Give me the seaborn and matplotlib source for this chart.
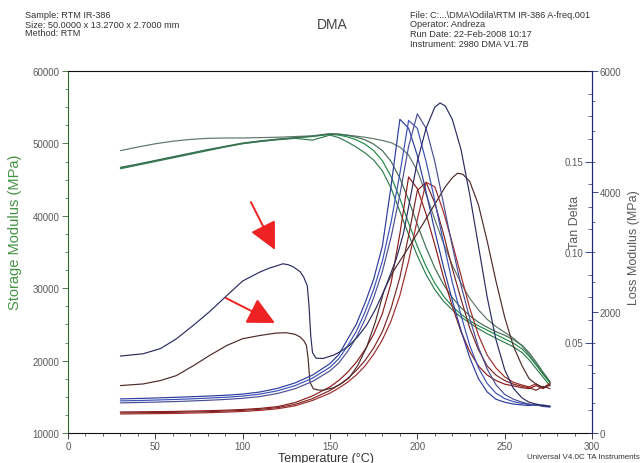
import matplotlib
matplotlib.use("Agg")
import matplotlib.pyplot as plt
from matplotlib.ticker import MultipleLocator, FixedLocator, FixedFormatter
import pandas as pd
import seaborn as sns

# Temperature grid (°C) shared by the regular runs
temp = [30, 40, 50, 60, 70, 80, 90, 100, 110, 120, 130, 140, 150, 155, 160, 165, 170, 175,
        180, 185, 190, 195, 200, 205, 210, 215, 220, 225, 230, 235, 240, 245, 250, 255,
        260, 264, 268, 272, 276]

# Storage modulus (MPa)
storage_a = [49000, 49500, 49950, 50300, 50550, 50700, 50750, 50750, 50800, 50850,
             50950, 51050, 51350, 51300, 51150, 51000, 50850, 50650, 50400, 50100,
             49500, 48400, 46200, 43000, 39500, 36200, 33200, 30700, 28600, 27000,
             25700, 24700, 23900, 23100, 22000, 20800, 19500, 18200, 17000]
storage_b = [46600, 47100, 47600, 48100, 48600, 49100, 49550, 50000, 50300, 50550,
             50750, 50950, 51250, 51150, 50900, 50500, 49900, 49000, 47600, 45400,
             42400, 39000, 35800, 33000, 30700, 28900, 27500, 26400, 25500, 24800,
             24200, 23600, 23000, 22400, 21600, 20600, 19400, 18100, 16900]
storage_c = [46500, 47000, 47500, 48000, 48500, 49000, 49500, 49950, 50250, 50500,
             50700, 50450, 51150, 50800, 50200, 49500, 48700, 47700, 46200, 43800,
             40600, 37400, 34500, 31900, 29800, 28200, 27000, 26000, 25200, 24400,
             23700, 23100, 22500, 21900, 21100, 20100, 18900, 17700, 16500]
storage_d = [46700, 47150, 47650, 48150, 48650, 49150, 49600, 50050, 50350, 50600,
             50800, 51000, 51300, 51250, 51100, 50850, 50500, 49900, 49000, 47500,
             45200, 42200, 38800, 35600, 32800, 30500, 28700, 27300, 26200, 25300,
             24600, 24000, 23500, 22900, 22100, 21100, 19800, 18400, 17100]

# Loss modulus (MPa)
loss_a = [565, 572, 580, 590, 600, 612, 625, 645, 680, 740,
          830, 960, 1150, 1300, 1550, 1800, 2150, 2550, 3100, 4100,
          5200, 5050, 4600, 4000, 3350, 2750, 2200, 1700, 1250, 900,
          680, 560, 510, 480, 465, 455, 470, 440, 430]
loss_b = [532, 538, 546, 555, 565, 578, 592, 612, 645, 700,
          785, 910, 1090, 1230, 1440, 1680, 2000, 2380, 2850, 3500,
          4300, 5180, 5050, 4500, 3850, 3150, 2500, 1950, 1450, 1080,
          820, 660, 570, 520, 490, 470, 455, 465, 445]
loss_c = [499, 505, 512, 520, 530, 542, 556, 575, 605, 655,
          735, 855, 1030, 1160, 1350, 1580, 1880, 2240, 2680, 3250,
          3950, 4750, 5290, 5050, 4500, 3800, 3100, 2450, 1900, 1420,
          1060, 800, 640, 560, 510, 480, 460, 450, 440]

# First-heating run with the low-temperature hump (loss modulus)
temp_hump_loss = [30, 35, 43, 53, 62, 72, 81, 91, 100, 110, 115, 120, 123, 126, 129, 133,
                  135, 137, 138, 139, 140, 142, 146, 152, 156, 161, 166, 171, 176, 181,
                  185, 188, 192, 196, 200, 205, 210, 213, 216, 220, 225, 230, 235, 240,
                  245, 250, 255, 260, 264, 268, 272, 276]
loss_hump = [1275, 1290, 1313, 1400, 1560, 1790, 2010, 2280, 2520, 2670,
             2730, 2775, 2805, 2790, 2754, 2670, 2580, 2440, 2100, 1600,
             1330, 1240, 1235, 1290, 1350, 1450, 1600, 1790, 2050, 2360,
             2660, 2890, 3300, 3900, 4500, 5050, 5400, 5470, 5420, 5200,
             4700, 3950, 3100, 2250, 1550, 1050, 740, 580, 510, 480, 455, 440]

# Tan delta
tan_a = [0.0116, 0.0117, 0.0118, 0.0119, 0.0121, 0.0123, 0.0126, 0.0130, 0.0136, 0.0146,
         0.0168, 0.0205, 0.0255, 0.0290, 0.0335, 0.0390, 0.0460, 0.0545, 0.0660, 0.0830,
         0.1100, 0.1415, 0.1350, 0.1210, 0.1040, 0.0860, 0.0700, 0.0560, 0.0450, 0.0370,
         0.0320, 0.0290, 0.0270, 0.0260, 0.0250, 0.0245, 0.0262, 0.0245, 0.0270]
tan_b = [0.0111, 0.0112, 0.0113, 0.0114, 0.0116, 0.0118, 0.0121, 0.0125, 0.0131, 0.0140,
         0.0158, 0.0190, 0.0235, 0.0265, 0.0300, 0.0345, 0.0400, 0.0470, 0.0560, 0.0690,
         0.0860, 0.1090, 0.1340, 0.1385, 0.1270, 0.1100, 0.0910, 0.0740, 0.0580, 0.0460,
         0.0370, 0.0320, 0.0290, 0.0270, 0.0258, 0.0250, 0.0236, 0.0258, 0.0245]
tan_c = [0.0105, 0.0106, 0.0107, 0.0108, 0.0110, 0.0112, 0.0115, 0.0119, 0.0125, 0.0134,
         0.0150, 0.0180, 0.0220, 0.0248, 0.0280, 0.0320, 0.0370, 0.0435, 0.0515, 0.0620,
         0.0760, 0.0950, 0.1180, 0.1385, 0.1360, 0.1220, 0.1050, 0.0870, 0.0690, 0.0540,
         0.0430, 0.0360, 0.0310, 0.0280, 0.0265, 0.0255, 0.0272, 0.0250, 0.0275]

temp_hump_tan = [30, 43, 53, 62, 72, 81, 91, 100, 110, 119, 125, 130, 133, 135, 136.5, 137.5,
                 138.5, 140.5, 143, 146, 152, 156, 161, 166, 171, 176, 181, 186, 191, 196,
                 201, 206, 211, 216, 220, 223, 226, 230, 235, 240, 245, 250, 255, 260,
                 264, 268, 272, 276]
tan_hump = [0.0262, 0.0271, 0.0290, 0.0317, 0.0373, 0.0428, 0.0484, 0.0521, 0.0539, 0.0552,
            0.0554, 0.0545, 0.0530, 0.0510, 0.0484, 0.0410, 0.0281, 0.0244, 0.0238, 0.0236,
            0.0250, 0.0270, 0.0305, 0.0375, 0.0475, 0.0615, 0.0790, 0.0890, 0.0965, 0.1040,
            0.1120, 0.1200, 0.1280, 0.1360, 0.1410, 0.1435, 0.1430, 0.1390, 0.1260, 0.1060,
            0.0840, 0.0640, 0.0480, 0.0370, 0.0300, 0.0270, 0.0250, 0.0265]

storage_colors = ["#5d7566", "#1f8b47", "#2f7b4e", "#3f6d55"]
loss_colors = ["#2b3c9c", "#3a50b4", "#4b4d94", "#2a2c60"]
tan_colors = ["#8c1b1b", "#7b2626", "#a02b2b", "#4d2a2a"]


def long_frame(runs, value_name):
    parts = []
    for name, t, v in runs:
        parts.append(pd.DataFrame({"Temperature": t, value_name: v, "run": name}))
    return pd.concat(parts, ignore_index=True)


storage_df = long_frame([("A", temp, storage_a), ("B", temp, storage_b),
                         ("C", temp, storage_c), ("D", temp, storage_d)], "Storage")
loss_df = long_frame([("A", temp, loss_a), ("B", temp, loss_b),
                      ("C", temp, loss_c), ("H", temp_hump_loss, loss_hump)], "Loss")
tan_df = long_frame([("A", temp, tan_a), ("B", temp, tan_b),
                     ("C", temp, tan_c), ("H", temp_hump_tan, tan_hump)], "Tan")

sns.set_theme(style="ticks")
plt.rcParams["font.family"] = ["Liberation Sans", "DejaVu Sans"]

fig = plt.figure(figsize=(6.41, 4.64), dpi=100)
fig.patch.set_facecolor("white")
ax = fig.add_axes([68 / 641, 1 - 434 / 464, 524 / 641, 362 / 464])
ax_tan = ax.twinx()
ax_loss = ax.twinx()

lw = 0.85
sns.lineplot(data=storage_df, x="Temperature", y="Storage", hue="run",
             hue_order=["A", "B", "C", "D"], palette=storage_colors,
             estimator=None, sort=False, legend=False, lw=lw, ax=ax)
sns.lineplot(data=tan_df, x="Temperature", y="Tan", hue="run",
             hue_order=["A", "B", "C", "H"], palette=tan_colors,
             estimator=None, sort=False, legend=False, lw=lw, ax=ax_tan)
sns.lineplot(data=loss_df, x="Temperature", y="Loss", hue="run",
             hue_order=["A", "B", "C", "H"], palette=loss_colors,
             estimator=None, sort=False, legend=False, lw=lw, ax=ax_loss)

ax.set_xlim(0, 300)
ax.set_ylim(10000, 60000)
ax_tan.set_ylim(0, 0.2)
ax_loss.set_ylim(0, 6000)
for a in (ax, ax_tan, ax_loss):
    a.set_xlabel("")
    a.set_ylabel("")
    a.grid(False)

navy = "#1e2a78"
green = "#2e6b2e"
grey = "#5a5a5a"
tick_size = 7

# main axes: temperature and storage modulus
ax.xaxis.set_major_locator(MultipleLocator(50))
ax.xaxis.set_minor_locator(MultipleLocator(10))
ax.yaxis.set_major_locator(MultipleLocator(10000))
ax.yaxis.set_minor_locator(MultipleLocator(2500))
ax.tick_params(axis="both", which="major", length=4, width=0.6, labelsize=tick_size,
               labelcolor=grey, pad=2)
ax.tick_params(axis="both", which="minor", length=2.5, width=0.5)
ax.tick_params(axis="x", which="both", color="#222222")
ax.tick_params(axis="y", which="both", color=green)
for side in ("top", "bottom"):
    ax.spines[side].set_color("#111111")
    ax.spines[side].set_linewidth(0.8)
ax.spines["left"].set_color(green)
ax.spines["left"].set_linewidth(0.8)
ax.spines["right"].set_visible(False)

# twin axes share the right spine
for side in ("top", "bottom", "left"):
    ax_tan.spines[side].set_visible(False)
    ax_loss.spines[side].set_visible(False)
for a in (ax_tan, ax_loss):
    a.spines["right"].set_color(navy)
    a.spines["right"].set_linewidth(0.8)

# tan delta: ticks pointing into the plot, labels inside
ax_tan.yaxis.set_major_locator(FixedLocator([0.05, 0.10, 0.15]))
ax_tan.yaxis.set_minor_locator(MultipleLocator(0.0125))
ax_tan.yaxis.set_major_formatter(FixedFormatter(["0.05", "0.10", "0.15"]))
ax_tan.tick_params(axis="y", which="major", direction="in", length=5, width=0.6,
                   color=navy, labelsize=tick_size, labelcolor=grey, pad=-6)
ax_tan.tick_params(axis="y", which="minor", direction="in", length=3, width=0.5, color=navy)

# loss modulus: ticks and labels outside
ax_loss.yaxis.set_major_locator(MultipleLocator(2000))
ax_loss.yaxis.set_minor_locator(MultipleLocator(500))
ax_loss.tick_params(axis="y", which="major", direction="out", length=4, width=0.6,
                    color=navy, labelsize=tick_size, labelcolor=grey, pad=1.5)
ax_loss.tick_params(axis="y", which="minor", direction="out", length=2.5, width=0.5, color=navy)

plt.setp(ax_tan.get_yticklabels(), ha="right")

# axis titles
fig.text(15 / 641, 1 - 232 / 464, "Storage Modulus (MPa)", rotation=90, color="#449444",
         fontsize=10.5, ha="center", va="center")
fig.text(575 / 641, 1 - 222 / 464, "Tan Delta", rotation=90, color=grey,
         fontsize=9, ha="center", va="center")
fig.text(634 / 641, 1 - 248 / 464, "Loss Modulus (MPa)", rotation=90, color=grey,
         fontsize=9, ha="center", va="center")
fig.text(326 / 641, 1 - 459 / 464, "Temperature (°C)", color="#333333",
         fontsize=9, ha="center", va="center")

# header and footer
fig.text(332 / 641, 1 - 25 / 464, "DMA", fontsize=10, color="#444444", ha="center", va="center")
left_header = ["Sample: RTM IR-386", "Size: 50.0000 x 13.2700 x 2.7000 mm", "Method: RTM"]
for i, line in enumerate(left_header):
    fig.text(25 / 641, 1 - (16 + 9 * i) / 464, line, fontsize=6.6, color="#333333",
             ha="left", va="center")
right_header = ["File: C:...\\DMA\\Odila\\RTM IR-386 A-freq.001", "Operator: Andreza",
                "Run Date: 22-Feb-2008 10:17", "Instrument: 2980 DMA V1.7B"]
for i, line in enumerate(right_header):
    fig.text(410 / 641, 1 - (15 + 9.7 * i) / 464, line, fontsize=6.6, color="#333333",
             ha="left", va="center")
fig.text(527 / 641, 1 - 458 / 464, "Universal V4.0C TA Instruments", fontsize=5.8,
         color="#333333", ha="left", va="center")

# red pointer arrows
arrow_style = dict(arrowstyle="-|>,head_length=1.4,head_width=0.7", lw=1.4,
                   color="#ee2222", shrinkA=0, shrinkB=0)
ax.annotate("", xy=(0.395, 0.506), xytext=(0.349, 0.638), xycoords="axes fraction",
            textcoords="axes fraction", arrowprops=arrow_style)
ax.annotate("", xy=(0.395, 0.304), xytext=(0.301, 0.373), xycoords="axes fraction",
            textcoords="axes fraction", arrowprops=arrow_style)

fig.savefig("out.png", dpi=100)
